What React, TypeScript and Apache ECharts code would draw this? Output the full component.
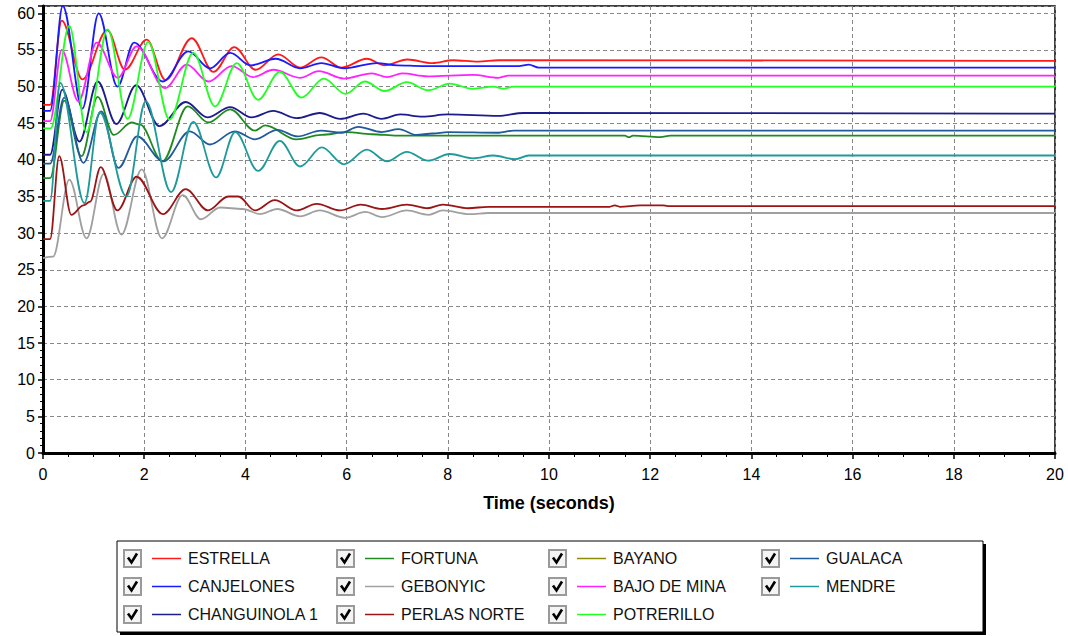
import React, { useEffect, useRef } from "react";
import * as echarts from "echarts";

type P = [number, number];

// ---- data (time in seconds, rotor angle) ----
const estrella: P[] = [[0,47.5],[0.14,47.5],[0.37,59.0],[0.78,51.0],[1.27,57.7],[1.62,52.3],[2.05,56.4],[2.42,50.9],[2.94,56.6],[3.37,52.0],[3.78,55.4],[4.2,52.3],[4.65,54.4],[5.08,52.6],[5.5,54.0],[5.9,52.6],[6.4,53.8],[6.75,52.9],[7.2,53.7],[7.7,53.2],[8.1,53.6],[8.6,53.4],[9.0,53.6],[20,53.5]];
const canjelones: P[] = [[0,46.7],[0.14,46.7],[0.39,61.0],[0.78,47.0],[1.1,60.0],[1.47,50.0],[1.8,56.0],[2.37,50.7],[2.87,54.8],[3.3,52.5],[3.7,54.6],[4.1,52.9],[4.6,53.8],[5.08,52.5],[5.5,53.2],[5.95,52.5],[6.6,53.2],[7.0,52.9],[7.5,52.8],[9.4,52.8],[9.6,53.0],[9.8,52.6],[20,52.6]];
const changuinola: P[] = [[0,40.7],[0.14,40.7],[0.38,49.6],[0.72,42.5],[1.08,50.7],[1.45,44.9],[1.84,50.2],[2.3,44.6],[2.82,47.9],[3.25,45.8],[3.7,47.2],[4.12,45.8],[4.55,46.7],[5.01,45.7],[5.47,46.4],[5.87,45.6],[6.33,46.3],[6.69,45.6],[7.06,46.2],[7.5,45.9],[8.0,46.2],[9.0,46.0],[9.5,46.4],[20,46.3]];
const fortuna: P[] = [[0,37.5],[0.14,37.5],[0.42,48.1],[0.76,40.5],[1.08,48.6],[1.4,43.4],[1.75,45.1],[1.92,44.8],[2.36,39.8],[2.86,47.3],[3.27,45.1],[3.7,46.9],[4.19,44.0],[4.39,44.7],[5.01,42.8],[5.5,43.4],[6.0,43.8],[6.5,43.5],[7.0,43.3],[11.5,43.3],[11.58,43.1],[11.66,43.3],[12.2,43.1],[12.4,43.3],[20,43.3]];
const gebonyic: P[] = [[0,26.6],[0.2,26.8],[0.52,37.3],[0.86,29.3],[1.2,38.1],[1.55,29.8],[1.95,38.7],[2.35,29.3],[2.76,35.2],[3.12,31.9],[3.5,33.5],[3.95,33.3],[4.29,32.6],[4.63,33.3],[5.08,32.3],[5.47,33.1],[5.97,32.1],[6.37,32.9],[6.7,32.2],[7.19,33.1],[7.62,32.5],[7.9,33.1],[8.44,32.6],[8.8,32.75],[20,32.75]];
const perlasNorte: P[] = [[0,29.2],[0.14,29.2],[0.32,40.5],[0.56,32.5],[0.8,33.8],[0.93,34.3],[1.14,39.0],[1.47,33.1],[1.85,37.7],[2.37,32.6],[2.82,36.0],[3.26,33.1],[3.66,35.0],[3.86,35.0],[4.19,33.1],[4.58,34.5],[5.01,33.1],[5.41,34.0],[5.87,33.1],[6.28,33.9],[6.7,33.3],[7.19,33.9],[7.6,33.4],[7.9,33.9],[8.4,33.4],[8.8,33.6],[11.2,33.6],[11.3,33.8],[11.4,33.6],[11.8,33.8],[12.25,33.8],[12.35,33.7],[20,33.7]];
const bayano: P[] = [[0,0],[20,0]];
const bajoDeMina: P[] = [[0,45.3],[0.14,45.3],[0.37,55.0],[0.7,48.0],[1.06,56.0],[1.48,51.2],[1.85,55.5],[2.41,49.8],[2.84,53.0],[3.27,50.7],[3.73,52.8],[4.15,51.3],[4.55,52.3],[5.08,51.2],[5.45,52.1],[5.95,51.1],[6.5,51.8],[6.8,51.3],[7.1,51.8],[7.6,51.4],[8.5,51.6],[9.0,51.2],[9.2,51.5],[20,51.5]];
const potrerillo: P[] = [[0,44.3],[0.15,44.3],[0.52,58.3],[0.86,43.8],[1.28,57.8],[1.67,45.6],[2.08,56.1],[2.5,45.5],[2.97,54.6],[3.4,47.3],[3.83,53.2],[4.25,48.2],[4.68,52.0],[5.11,48.5],[5.55,51.1],[5.98,49.0],[6.36,50.7],[6.75,49.4],[7.19,50.6],[7.61,49.5],[8.04,50.4],[8.5,49.7],[8.9,50.0],[9.1,49.7],[9.3,50.0],[20,50.0]];
const gualaca: P[] = [[0,39.5],[0.14,39.5],[0.42,48.5],[0.8,39.6],[1.15,46.6],[1.49,38.9],[1.86,43.2],[2.38,39.8],[2.9,43.9],[3.3,42.1],[3.79,43.9],[4.19,42.8],[4.63,44.1],[5.03,43.2],[5.49,44.0],[5.9,43.7],[6.23,44.5],[6.69,43.8],[7.03,44.2],[7.38,43.4],[7.7,43.6],[8.0,43.8],[9.0,43.7],[9.3,44.0],[20,44.0]];
const mendre: P[] = [[0,34.4],[0.14,34.4],[0.34,50.5],[0.82,34.1],[1.12,46.5],[1.65,35.0],[2.03,48.0],[2.53,35.6],[2.97,45.2],[3.42,37.6],[3.8,43.8],[4.25,38.5],[4.68,42.6],[5.08,39.1],[5.51,41.7],[5.95,39.4],[6.4,41.4],[6.8,39.8],[7.19,41.1],[7.61,39.9],[8.04,40.8],[8.5,40.2],[8.9,40.6],[9.33,40.1],[9.6,40.6],[20,40.6]];

// legend order (column-major, 3 rows)
const seriesNames = ["ESTRELLA","CANJELONES","CHANGUINOLA 1","FORTUNA","GEBONYIC","PERLAS NORTE","BAYANO","BAJO DE MINA","POTRERILLO","GUALACA","MENDRE"];
const seriesData: P[][] = [estrella, canjelones, changuinola, fortuna, gebonyic, perlasNorte, bayano, bajoDeMina, potrerillo, gualaca, mendre];
const seriesColors = ["#ff1a1a","#1a1aff","#1c1c8c","#1f8a1f","#a0a0a0","#9c1515","#8c8c00","#ff22ff","#22ff22","#1f5a9c","#1f9a9a"];

const xTickLabels = [0,2,4,6,8,10,12,14,16,18,20];
const xTitle = "Time (seconds)";

const FONT = "'Liberation Sans', Arial, sans-serif";

export default function App() {
  const ref = useRef<HTMLDivElement>(null);
  useEffect(() => {
    if (!ref.current) return;
    const chart = echarts.init(ref.current, undefined, { renderer: "svg" });

    const colX = [124, 337, 549, 762];
    const rowY = [558.5, 586.5, 614.5];
    const legend: any[] = [];
    legend.push({ type: "rect", shape: { x: 120, y: 544, width: 866, height: 91 }, style: { fill: "#000" }, z: 10 });
    legend.push({ type: "rect", shape: { x: 117, y: 541, width: 866, height: 91 }, style: { fill: "#fff", stroke: "#000", lineWidth: 1 }, z: 11 });
    seriesNames.forEach((name, i) => {
      const c = Math.floor(i / 3), r = i % 3;
      const x = colX[c], y = rowY[r];
      legend.push({ type: "rect", shape: { x: x, y: y - 8.5, width: 17, height: 17 }, style: { fill: "#f4f4f4", stroke: "#9a9a9a", lineWidth: 2 }, z: 12 });
      legend.push({ type: "polyline", shape: { points: [[x + 4, y - 1], [x + 7.5, y + 4], [x + 13, y - 5]] }, style: { stroke: "#000", lineWidth: 2.6, fill: null }, z: 13 });
      legend.push({ type: "line", shape: { x1: x + 28, y1: y, x2: x + 57, y2: y }, style: { stroke: seriesColors[i], lineWidth: 1.5 }, z: 12 });
      legend.push({ type: "text", x: x + 64, y: y, style: { text: name, fill: "#111", font: `16px ${FONT}`, verticalAlign: "middle", align: "left" }, z: 12 });
    });

    chart.setOption({
      animation: false,
      backgroundColor: "#fff",
      grid: { left: 43, right: 13, top: 6, bottom: 183, show: true, borderColor: "#000", borderWidth: 1.5, backgroundColor: "transparent" },
      xAxis: {
        type: "value", min: 0, max: 20, interval: 2,
        name: xTitle, nameLocation: "middle", nameGap: 41,
        nameTextStyle: { fontFamily: FONT, fontSize: 18, fontWeight: "bold", color: "#000" },
        axisLine: { show: true, lineStyle: { color: "#000", width: 3 } },
        axisTick: { show: true, length: 6, lineStyle: { color: "#000", width: 1.5 } },
        minorTick: { show: true, splitNumber: 4, length: 4, lineStyle: { color: "#000", width: 1 } },
        axisLabel: { fontFamily: FONT, fontSize: 16, color: "#000", margin: 13,
          formatter: (v: number) => (xTickLabels.indexOf(v) >= 0 ? String(v) : "") },
        splitLine: { show: true, lineStyle: { color: "#888", type: [4, 3], width: 1 } },
      },
      yAxis: {
        type: "value", min: 0, max: 61, interval: 5,
        axisLine: { show: true, lineStyle: { color: "#000", width: 3 } },
        axisTick: { show: true, length: 5, lineStyle: { color: "#000", width: 1.5 } },
        minorTick: { show: true, splitNumber: 5, length: 3, lineStyle: { color: "#000", width: 1 } },
        axisLabel: { fontFamily: FONT, fontSize: 16, color: "#000", margin: 8,
          formatter: (v: number) => (v % 5 === 0 ? String(v) : "") },
        splitLine: { show: true, lineStyle: { color: "#888", type: [4, 3], width: 1 } },
      },
      series: seriesNames.map((name, i) => ({
        name, type: "line", data: seriesData[i], showSymbol: false, symbol: "none",
        smooth: 0.35, smoothMonotone: "x",
        lineStyle: { color: seriesColors[i], width: 1.8 },
        itemStyle: { color: seriesColors[i] },
        z: name === "BAYANO" ? -1 : 2,
        silent: true,
      })),
      graphic: legend,
    });
    return () => chart.dispose();
  }, []);
  return <div ref={ref} style={{ position: "fixed", left: 0, top: 0, width: 1068, height: 636 }} />;
}
